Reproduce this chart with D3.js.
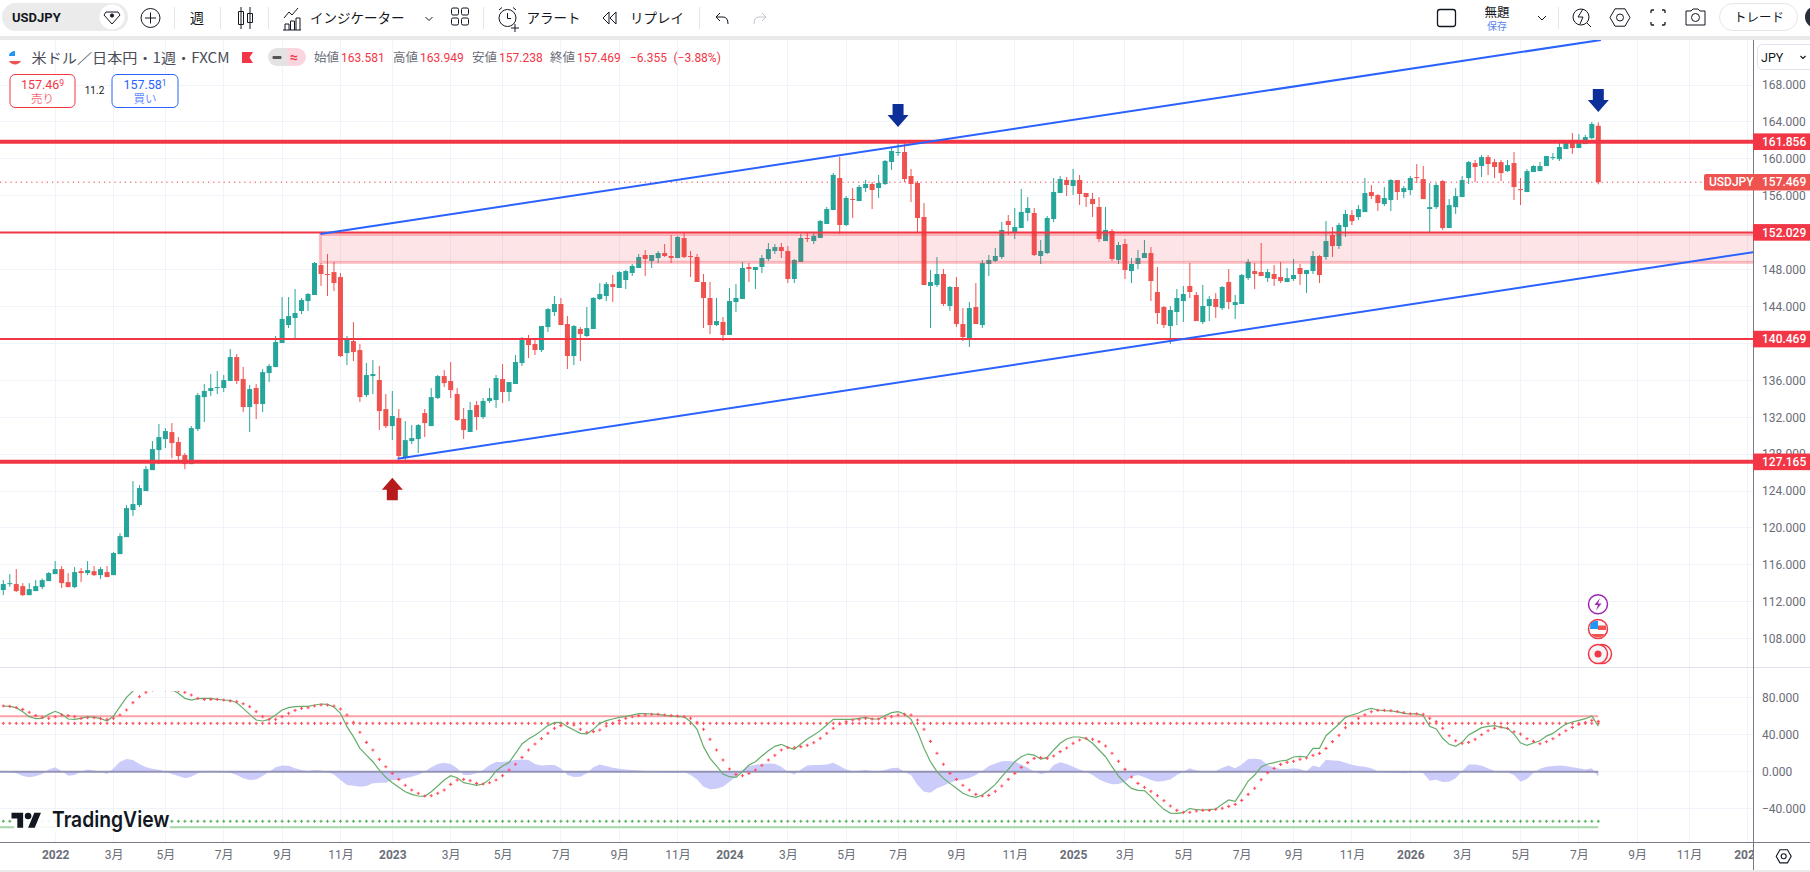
<!DOCTYPE html>
<html>
<head>
<meta charset="utf-8">
<title>USDJPY</title>
<script src="https://d3js.org/d3.v7.min.js"></script>
<style>
	html, body { margin: 0; padding: 0; background: #fff; overflow: hidden; }
	text { font-family: Roboto, "Noto Sans CJK JP", sans-serif; }
	.jp { font-family: "Noto Sans CJK JP", sans-serif; }
</style>
</head>
<body>
<svg id="chart" width="1810" height="872"></svg>
<script>
// weekly candles, index 0 is the first bar on screen
const opens = [
113.27,113.92,113.92,113.70,112.72,113.16,113.59,114.24,115.00,115.54,
114.13,113.59,115.32,115.11,115.32,114.89,115.22,114.89,117.17,119.01,
121.94,122.48,124.00,126.27,128.44,129.63,130.39,129.31,127.90,126.92,
130.72,134.18,134.84,135.16,135.16,135.92,138.52,136.14,133.10,135.16,
133.43,136.79,137.44,140.04,141.99,142.75,143.51,144.59,145.24,148.49,
147.52,147.73,147.19,138.95,140.25,139.28,134.40,136.46,136.03,132.88,
131.04,131.91,127.68,129.42,129.63,132.45,131.04,134.08,136.46,135.92,
134.51,131.81,130.40,133.32,132.02,133.76,133.86,136.14,134.73,135.60,
137.87,140.47,139.93,139.28,141.77,143.40,144.27,142.10,138.63,141.56,
140.80,141.56,144.81,145.13,146.43,146.00,146.87,147.63,148.17,149.58,
148.93,149.25,149.79,149.47,149.25,151.42,149.47,149.36,146.65,144.92,
141.99,142.32,140.91,144.48,144.81,148.28,147.95,148.28,149.14,150.01,
150.44,150.01,146.98,148.82,151.42,151.09,151.42,152.94,154.45,157.92,
152.83,155.65,155.43,156.84,157.27,156.84,157.27,159.66,160.63,160.74,
158.14,157.38,153.70,146.22,146.33,147.52,144.05,146.11,142.10,140.58,
143.94,141.99,148.60,148.93,149.36,153.26,152.07,152.50,154.13,154.13,
149.47,149.79,153.48,156.30,157.71,157.06,157.71,156.30,155.65,154.78,
151.09,152.18,149.04,150.77,147.84,148.60,149.25,149.79,145.57,143.94,
141.88,143.40,144.59,146.22,145.24,142.32,144.05,144.81,143.83,146.65,
144.16,144.27,147.08,147.84,147.73,147.08,147.52,147.19,146.65,146.98,
148.17,147.52,147.84,149.47,149.36,151.75,150.55,152.61,153.91,153.69,
154.23,156.40,156.07,155.10,155.53,157.70,156.40,156.61,158.02,157.81,
154.56,154.77,157.59,152.50,154.77,155.86,157.92,159.54,159.22,160.19,
159.65,159.65,158.67,159.54,156.72,156.40,158.57,158.67,159.22,160.08,
159.97,161.06,161.71,161.17,161.60,162.25,163.581];
const highs = [
114.35,115.00,115.54,114.02,114.02,114.35,114.53,115.22,116.41,115.87,
115.11,115.76,115.65,116.41,115.87,115.76,115.87,117.39,119.44,122.48,
125.08,124.65,126.71,129.42,131.26,130.82,131.37,129.85,128.12,131.04,
134.62,135.59,136.68,137.00,136.57,139.39,138.85,137.44,135.49,135.59,
137.22,137.76,140.80,145.02,145.02,145.89,144.92,145.46,148.82,148.71,
149.68,148.82,147.63,140.80,142.31,139.93,137.87,138.20,137.55,134.51,
134.84,132.88,131.58,131.15,131.26,132.88,135.16,136.57,137.11,137.98,
135.16,133.00,133.65,133.76,134.08,135.16,136.57,137.76,135.81,138.74,
140.69,140.91,140.47,141.88,143.83,145.13,144.92,142.97,141.99,141.77,
143.94,145.02,146.54,146.65,147.41,147.84,147.95,148.60,149.69,150.12,
149.58,150.01,150.77,151.75,151.64,152.07,150.01,149.69,147.52,146.65,
144.92,142.86,146.00,146.43,148.82,148.71,148.28,149.58,150.88,150.77,
150.88,150.55,149.14,151.85,152.07,151.96,153.37,154.78,158.47,160.20,
155.97,156.84,157.16,157.71,157.49,158.25,159.87,161.18,162.04,161.83,
158.90,157.60,155.21,147.95,149.36,148.06,146.22,147.19,143.83,144.48,
146.54,149.04,149.58,150.34,153.15,153.91,154.67,156.73,155.86,154.67,
151.20,153.80,157.92,158.14,158.03,158.90,158.25,156.30,156.30,155.86,
154.78,152.40,150.99,151.31,149.25,150.12,151.20,150.44,148.28,144.05,
144.05,145.89,146.22,148.71,145.57,146.33,145.13,145.46,146.22,148.06,
145.24,147.52,149.14,148.71,150.88,148.06,148.49,148.82,148.17,149.14,
148.60,147.95,150.01,149.58,153.26,152.61,153.05,154.45,154.45,154.99,
157.92,157.16,156.18,156.94,157.81,157.70,157.05,158.13,159.43,159.22,
157.37,157.37,157.70,155.64,156.83,158.13,159.76,159.87,160.41,160.41,
159.97,159.87,159.87,160.73,157.92,158.89,159.32,159.65,160.30,160.63,
161.82,161.93,162.79,162.68,162.58,163.99,163.949];
const lows = [
112.72,113.63,113.05,112.62,112.72,113.16,113.37,114.24,115.00,113.48,
113.59,113.48,114.13,114.89,114.78,114.46,114.68,114.89,117.17,119.01,
121.29,122.26,124.00,126.27,126.92,128.66,127.57,127.14,126.38,126.92,
130.50,131.48,134.29,134.51,134.73,135.92,135.59,132.56,130.39,131.80,
132.56,135.81,137.44,140.04,141.66,140.36,143.18,143.51,145.24,146.22,
145.13,145.67,138.52,137.65,138.09,133.64,134.18,134.51,130.61,130.82,
129.52,127.46,127.36,129.09,128.12,129.85,131.04,133.97,135.27,134.08,
131.59,129.64,130.40,130.61,131.81,133.54,132.99,133.54,133.75,135.60,
137.55,138.41,138.74,139.06,141.23,142.97,141.99,137.22,137.65,138.09,
140.69,141.56,144.70,144.59,144.48,146.00,145.89,147.30,148.17,147.30,
148.17,148.71,149.36,148.71,149.25,149.25,147.19,146.65,141.66,141.01,
141.88,140.26,140.91,143.40,144.81,146.65,145.89,147.63,148.93,149.69,
149.25,146.54,146.54,148.82,150.99,150.77,151.42,152.94,154.45,151.85,
152.72,153.59,155.43,156.41,154.56,155.76,157.16,158.79,160.31,157.49,
155.32,151.96,146.33,141.66,146.11,144.05,143.51,141.77,140.26,139.61,
142.10,141.66,147.30,148.82,149.14,151.75,151.31,152.50,153.26,149.47,
148.60,149.69,153.15,156.30,155.97,156.08,155.00,154.78,153.70,150.99,
151.09,148.93,148.60,146.98,146.54,148.06,149.25,144.59,142.10,141.66,
139.93,141.99,142.32,144.92,142.42,142.10,142.42,142.75,143.62,143.72,
142.64,144.27,146.87,145.89,147.30,146.65,146.22,146.54,146.65,146.76,
146.33,145.46,147.52,146.54,149.04,149.36,150.23,151.53,152.82,153.36,
154.23,155.64,154.34,154.88,154.34,155.53,155.75,156.07,157.37,155.64,
152.06,154.56,152.28,152.50,154.02,155.86,157.27,157.48,158.02,158.24,
157.92,157.59,158.57,155.53,154.99,156.40,158.57,158.67,159.22,159.87,
159.76,161.06,160.52,161.17,161.60,162.14,157.238];
const closes = [
113.92,114.02,113.16,112.72,113.37,113.70,114.35,115.11,115.54,114.02,
113.59,115.22,115.11,115.43,114.89,115.54,114.68,117.28,119.12,122.15,
122.59,124.32,126.38,128.55,129.85,130.50,129.20,127.79,126.92,130.82,
134.40,134.84,135.16,135.27,136.03,138.52,135.92,133.10,135.05,133.43,
136.89,137.55,140.15,142.64,142.96,143.29,144.70,145.35,148.71,147.52,
147.41,146.54,138.63,140.47,139.06,134.18,136.57,136.68,132.67,131.04,
132.13,127.79,129.52,129.74,131.15,131.37,134.18,136.46,135.70,134.94,
131.70,130.61,132.78,132.02,133.76,134.08,136.25,134.73,135.81,137.98,
140.58,139.82,139.28,141.88,143.72,144.27,141.99,138.63,141.88,141.01,
141.66,144.92,145.35,146.43,146.11,147.73,147.84,148.39,149.36,149.14,
149.58,149.79,149.47,149.25,151.53,149.36,149.36,146.65,144.92,141.99,
142.42,140.91,144.59,144.92,148.17,148.06,148.28,149.25,150.23,150.44,
150.01,146.98,149.04,151.42,151.31,151.64,153.26,154.56,158.25,152.83,
155.76,155.54,156.95,157.27,156.62,157.38,159.77,160.85,160.74,157.81,
157.27,153.59,146.33,146.65,147.52,144.27,146.11,142.10,140.69,143.83,
142.10,148.71,149.04,149.47,152.29,152.83,152.61,154.24,154.67,149.58,
150.01,153.59,156.41,157.81,157.16,157.71,156.19,155.86,155.10,151.31,
152.29,149.14,150.66,147.95,148.60,149.25,149.79,146.76,143.29,141.99,
143.62,144.92,145.35,145.57,142.42,144.05,144.81,143.94,146.11,144.48,
144.48,147.41,148.82,147.52,147.30,147.73,146.98,146.76,147.08,147.41,
147.52,147.95,149.47,147.41,151.09,150.55,152.83,154.02,153.25,154.56,
156.29,155.96,155.21,155.75,157.70,156.40,156.83,157.92,157.92,155.64,
154.77,157.16,152.50,154.99,155.96,157.70,159.65,159.11,160.19,159.43,
159.11,158.46,159.32,156.94,156.61,158.67,159.22,159.22,160.30,160.19,
161.28,161.71,161.17,161.71,162.36,163.77,157.469];

// oscillator pane, one value per week
const oscLine = [
71.0,70.7,69.2,64.9,59.5,57.3,57.7,62.0,65.3,62.4,
57.0,56.6,57.7,59.5,58.8,57.7,54.8,60.2,70.3,80.4,
87.2,96,104,104,100,95,89.0,84.7,79.3,77.5,
79.0,79.3,79.3,78.2,77.5,77.2,74.6,68.5,62.0,55.9,
54.8,56.6,61.3,66.7,69.2,70.3,70.7,70.7,72.1,73.2,
72.8,70.0,63.1,48.7,37.9,25.3,18.0,10.8,1.8,-6.1,
-11.9,-16.9,-21.6,-24.5,-26.3,-26.6,-21.6,-15.5,-9.0,-4.3,
-6.5,-11.9,-13.3,-14.7,-13.3,-8.3,0.8,6.2,9.8,19.9,
30.0,35.3,39.3,44.4,49.8,53.0,53.4,48.7,45.1,41.5,
40.8,45.8,52.3,55.2,57.0,58.8,59.9,61.3,62.7,62.7,
62.4,62.0,60.9,60.2,59.5,59.5,54.1,45.8,27.1,14.4,
6.2,-2.5,-5.4,-6.1,0.0,7.2,10.8,17.0,22.7,27.4,
29.6,26.3,24.2,30.0,35.3,39.7,44.4,50.5,56.6,56.6,
56.6,56.6,57.7,58.8,57.0,57.0,60.6,63.8,64.9,62.4,
56.6,43.3,25.3,10.8,0.0,-7.2,-12.6,-18.0,-23.4,-26.3,
-27.7,-25.2,-19.8,-13.7,-5.4,2.5,10.8,16.2,19.1,18.0,
13.7,15.5,23.5,30.7,35.3,37.5,37.5,35.7,30.7,23.5,
16.2,5.4,-4.7,-11.9,-18.0,-20.2,-20.5,-27.0,-34.2,-40.7,
-44.7,-45.0,-44.3,-39.6,-41.1,-41.4,-41.1,-40.3,-35.3,-30.6,
-32.0,-21.6,-10.1,-3.6,5.1,8.3,9.8,11.6,12.6,15.9,
16.6,15.9,25.2,25.2,38.9,45.1,51.6,58.8,61.3,63.5,
66.7,68.5,66.7,66.0,65.6,64.9,63.1,62.4,62.7,60.6,
49.0,46.2,36.1,29.6,27.4,31.7,39.7,43.6,47.6,49.0,
49.8,48.0,46.8,40.7,31.3,28.4,31.0,33.5,38.5,41.4,
46.8,51.5,53.7,55.5,57.3,60.2,49.3];
const oscSignal = [
71.0,70.7,69.2,67.4,64.2,60.6,58.8,57.7,59.5,61.3,
60.6,59.5,57.7,58.4,58.4,57.3,56.6,57.7,61.3,66.7,
74.6,81.1,85.8,88.3,89.0,88.3,88.3,87.6,85.8,82.9,
79.3,78.2,78.2,78.2,77.5,76.4,75.7,73.5,70.3,64.9,
59.5,56.6,56.6,59.5,63.1,66.3,68.5,69.2,71.0,72.1,
72.1,71.0,67.8,61.3,53.4,42.6,31.7,23.5,13.4,5.4,
-1.8,-8.3,-14.7,-19.8,-23.4,-26.3,-25.9,-23.4,-19.8,-13.7,
-9.0,-8.3,-9.7,-12.6,-13.3,-11.9,-9.0,-4.3,1.8,8.0,
15.5,23.5,30.0,35.7,41.5,46.9,49.8,52.3,50.5,45.8,
42.6,43.3,45.1,49.4,52.3,55.2,57.7,59.5,60.6,61.3,
62.0,62.0,61.3,60.6,60.2,59.5,57.7,53.4,45.8,35.0,
23.5,12.7,2.9,-2.9,-4.3,-1.8,1.8,6.9,12.7,17.7,
23.5,26.0,26.0,27.1,28.5,31.4,36.1,41.5,46.9,51.6,
54.1,55.9,56.6,57.7,57.0,57.0,57.7,59.5,61.3,62.0,
61.3,55.9,45.8,32.8,19.9,8.0,-1.8,-8.3,-14.7,-19.8,
-24.5,-26.3,-25.6,-21.2,-15.5,-8.3,-1.8,4.7,9.8,14.4,
15.2,14.4,17.0,21.7,25.6,30.7,34.3,36.1,35.0,32.5,
27.8,19.9,11.2,2.5,-5.7,-12.6,-16.9,-21.2,-25.9,-31.3,
-37.1,-41.8,-43.9,-43.9,-42.5,-41.8,-41.8,-40.7,-39.6,-37.5,
-35.3,-31.0,-24.5,-18.0,-8.6,-1.0,3.6,7.9,10.1,11.2,
13.4,14.8,17.7,19.8,25.2,32.5,39.3,47.6,52.6,57.7,
61.6,64.9,66.3,66.3,66.0,64.9,63.8,62.7,62.7,62.0,
57.7,54.1,46.9,38.9,33.5,30.7,31.7,35.0,40.0,44.3,
46.9,48.3,46.8,43.2,40.7,35.6,32.8,30.2,32.4,35.6,
40.0,44.3,47.9,51.1,53.0,55.5,54.4];
const oscHist = [
0,-0.7,-1.8,-4.7,-6.1,-5.0,-2.5,2.5,4.7,0.7,
-4.3,-3.6,0,2.5,1.4,0,-2.5,3.6,10.8,13.7,
12.6,8.3,4.7,3.2,2.2,0.4,-2.5,-4.7,-7.2,-5.4,
-1.8,0.4,1.1,0,-0.7,-1.1,-3.6,-7.2,-9.0,-8.3,
-4.7,0,4.7,6.8,6.5,3.6,1.8,0.7,1.8,1.4,
0,-2.9,-9.0,-14.4,-15.1,-16.2,-15.5,-12.6,-11.9,-11.9,
-9.0,-9.0,-7.2,-5.4,-3.2,0,4.7,8.3,9.7,8.3,
3.6,-3.6,-3.6,-1.8,1.8,7.2,10.5,10.5,11.5,12.6,
13.3,12.6,8.3,6.8,7.2,7.2,3.6,-3.6,-5.8,-5.4,
-1.8,4.7,7.9,6.1,4.3,3.2,2.5,1.8,1.4,0.7,
0,-0.7,-0.7,-1.1,-1.1,-0.4,-3.6,-8.3,-16.2,-19.1,
-18.4,-16.2,-10.8,-5.4,1.8,6.1,7.6,8.3,9.0,8.6,
5.4,0,-2.9,2.5,6.8,7.2,7.2,7.9,9.7,6.1,
2.5,0.4,1.1,1.8,0.7,0.4,1.8,4.0,4.3,-0.4,
-3.6,-14.4,-21.6,-22.7,-18.0,-15.1,-11.9,-9.4,-8.6,-6.8,
-3.6,0.7,6.1,9.0,11.2,11.5,10.8,7.9,4.3,0,
-2.5,-1.1,7.2,10.1,8.3,5.4,2.5,0,-3.6,-8.3,
-11.5,-13.7,-13.3,-10.8,-5.4,-3.6,-6.1,-9.0,-10.8,-10.1,
-8.3,-3.6,0,3.6,1.4,0.7,0,0.7,4.3,6.8,
3.6,7.9,13.7,14.1,13.3,7.2,4.3,2.9,2.9,3.6,
2.9,0.7,6.8,4.7,13.0,12.2,11.9,9.7,7.6,6.1,
5.4,3.6,0.4,-0.7,-1.1,-1.4,-1.8,-1.1,0,-1.8,
-9.7,-8.6,-11.2,-10.8,-7.2,0.7,7.9,7.9,6.5,3.6,
0.7,0.4,-0.7,-3.6,-10.8,-7.9,-1.1,3.2,5.4,6.1,
6.8,6.1,4.7,3.6,2.5,3.6,-5.4];

const oscUpperSolid = 60, oscUpperDots = 52.3, oscLowerDots = -53.6, oscLowerSolid = -60;

const priceTicks = [168,164,160,156,148,144,136,132,128,124,120,116,112,108];
const priceGridOnly = [152,140];
const oscTicks = [80,40,0,-40];

const timeIndex = [8,17,25,34,43,52,60,69,77,86,95,104,112,121,130,138,147,156,165,173,182,191,199,208,217,225,234,243,252,260,269];
const timeLabels = ["2022","3月","5月","7月","9月","11月","2023","3月","5月","7月","9月","11月","2024","3月","5月","7月","9月","11月","2025","3月","5月","7月","9月","11月","2026","3月","5月","7月","9月","11月","2027"];

// drawings
const heavyLevels = [161.856,127.165];
const lightLevels = [152.029,140.469];
const lastPrice = 157.469;
const upperChannelIdx = [48.9,246.4], upperChannelPrice = [151.85,172.88];
const lowerChannelIdx = [60.8,270], lowerChannelPrice = [127.50,149.90];
const zoneStartIdx = 48.9, zoneTop = 151.8, zoneBottom = 148.78;
const sellMarkIdx = [138,246], sellMarkPrice = [163.45,165.07];
const buyMarkIdx = [60], buyMarkPrice = [125.44];

const ohlcNames = ["始値","高値","安値","終値"];
const ohlcValues = ["163.581","163.949","157.238","157.469"];

const red = "#f23645", up = "#26a69a", down = "#ef5350", blue = "#2962ff", gridCol = "#f0f3fa", axisText = "#6a6d78";

const svg = d3.select("#chart");
const defs = svg.append("defs");
defs.append("clipPath").attr("id","mainClip").append("rect").attr("x",0).attr("y",40).attr("width",1753).attr("height",627);
defs.append("clipPath").attr("id","oscClip").append("rect").attr("x",0).attr("y",691).attr("width",1753).attr("height",151);
defs.append("clipPath").attr("id","timeClip").append("rect").attr("x",0).attr("y",843).attr("width",1753).attr("height",27);

const x = d3.scaleLinear().domain([0,246]).range([3.3,1598.3]);
const y = d3.scaleLinear().domain([168,108]).range([85,638.7]);
const yOsc = d3.scaleLinear().domain([80,-40]).range([697.7,808.7]);

// grid
const grid = svg.append("g").attr("stroke",gridCol).attr("stroke-width",1).attr("shape-rendering","crispEdges");
grid.selectAll(".gy").data(priceTicks.concat(priceGridOnly)).enter().append("line")
	.attr("x1",0).attr("x2",1753).attr("y1",d => y(d)).attr("y2",d => y(d));
grid.selectAll(".go").data(oscTicks).enter().append("line")
	.attr("x1",0).attr("x2",1753).attr("y1",d => yOsc(d)).attr("y2",d => yOsc(d));
grid.selectAll(".gx").data(timeIndex).enter().append("line")
	.attr("x1",d => x(d)).attr("x2",d => x(d)).attr("y1",40).attr("y2",842);

// candles
const idx = d3.range(opens.length);
const main = svg.append("g").attr("clip-path","url(#mainClip)");
const candles = main.append("g");
candles.selectAll("line").data(idx).enter().append("line")
	.attr("x1",d => x(d)).attr("x2",d => x(d))
	.attr("y1",d => y(highs[d])).attr("y2",d => y(lows[d]))
	.attr("stroke",d => closes[d] >= opens[d] ? up : down).attr("stroke-width",1);
candles.selectAll("rect").data(idx).enter().append("rect")
	.attr("x",d => x(d)-2.5).attr("width",5)
	.attr("y",d => y(Math.max(opens[d],closes[d])))
	.attr("height",d => Math.max(1,y(Math.min(opens[d],closes[d]))-y(Math.max(opens[d],closes[d]))))
	.attr("fill",d => closes[d] >= opens[d] ? up : down);

// last price dotted
main.append("line").attr("x1",0).attr("x2",1704).attr("y1",y(lastPrice)).attr("y2",y(lastPrice))
	.attr("stroke",red).attr("stroke-width",1).attr("stroke-dasharray","1.2 4");

// zone
main.append("rect").attr("x",x(zoneStartIdx)).attr("width",1600).attr("y",y(zoneTop)).attr("height",y(zoneBottom)-y(zoneTop))
	.attr("fill",red).attr("fill-opacity",0.13).attr("stroke",red).attr("stroke-opacity",0.3).attr("stroke-width",3);

// horizontal levels
main.selectAll(".hv").data(heavyLevels).enter().append("line")
	.attr("x1",0).attr("x2",1753).attr("y1",d => y(d)).attr("y2",d => y(d)).attr("stroke",red).attr("stroke-width",4);
main.selectAll(".lt").data(lightLevels).enter().append("line")
	.attr("x1",0).attr("x2",1753).attr("y1",d => y(d)).attr("y2",d => y(d)).attr("stroke",red).attr("stroke-width",2);

// channel
const chanLine = d3.line().x(d => x(d[0])).y(d => y(d[1]));
[[upperChannelIdx,upperChannelPrice],[lowerChannelIdx,lowerChannelPrice]].forEach(c => {
	main.append("path").attr("d",chanLine(d3.zip(c[0],c[1]))).attr("fill","none").attr("stroke",blue).attr("stroke-width",2);
});

// arrows
const sellArrow = "M0,0 L-10.5,-12 L-5.5,-12 L-5.5,-23 L5.5,-23 L5.5,-12 L10.5,-12 Z";
const buyArrow = "M0,0 L-10.5,12 L-5.5,12 L-5.5,22.5 L5.5,22.5 L5.5,12 L10.5,12 Z";
sellMarkIdx.forEach((d,i) => {
	main.append("path").attr("d",sellArrow).attr("fill","#0d2f9a").attr("transform",`translate(${x(d)},${y(sellMarkPrice[i])})`);
});
buyMarkIdx.forEach((d,i) => {
	main.append("path").attr("d",buyArrow).attr("fill","#b71c1c").attr("transform",`translate(${x(d)},${y(buyMarkPrice[i])})`);
});

// oscillator pane
const osc = svg.append("g").attr("clip-path","url(#oscClip)");
const oscEndX = x(246);
[[oscUpperSolid,"#f9a3a9"],[oscLowerSolid,"#a5d6a7"]].forEach(l => {
	osc.append("line").attr("x1",0).attr("x2",oscEndX).attr("y1",yOsc(l[0])).attr("y2",yOsc(l[0])).attr("stroke",l[1]).attr("stroke-width",2);
});
osc.append("path").datum(oscHist).attr("fill","#c9c9fb").attr("fill-opacity",0.95)
	.attr("d",d3.area().x((d,i) => x(i)).y0(yOsc(0)).y1(d => yOsc(d)));
osc.append("line").attr("x1",0).attr("x2",oscEndX).attr("y1",yOsc(0)).attr("y2",yOsc(0)).attr("stroke","#9393b5").attr("stroke-width",2);

const cross = d3.symbol().type(d3.symbolCross).size(5.5);
osc.selectAll(".du").data(idx).enter().append("path").attr("d",cross).attr("fill","#ff4d5a")
	.attr("transform",d => `translate(${x(d)},${yOsc(oscUpperDots)})`);
osc.selectAll(".dl").data(idx).enter().append("path").attr("d",cross).attr("fill","#4caf50")
	.attr("transform",d => `translate(${x(d)},${yOsc(oscLowerDots)})`);
osc.append("path").datum(oscLine).attr("fill","none").attr("stroke","#66ad6a").attr("stroke-width",1.2)
	.attr("d",d3.line().x((d,i) => x(i)).y(d => yOsc(d)));
osc.selectAll(".sg").data(oscSignal).enter().append("path").attr("d",cross).attr("fill","#ff4d5a")
	.attr("transform",(d,i) => `translate(${x(i)},${yOsc(d)})`);

// logo sits above the oscillator
const logoBg = svg.append("g");
logoBg.append("rect").attr("x",14).attr("y",812).attr("width",156).attr("height",21).attr("fill","#fff").attr("fill-opacity",0.9);
const logo = logoBg.append("g").attr("transform","translate(11.5,809.4) scale(0.83)").attr("fill","#131722");
logo.append("path").attr("d","M14 22H7V11H0V4h14v18zM28 22h-8l7.5-18h8L28 22z");
logo.append("circle").attr("cx",20).attr("cy",8).attr("r",4);
logoBg.append("text").attr("x",52).attr("y",827).attr("font-size",22).attr("font-weight",600).attr("fill","#131722")
	.attr("textLength",117.5).attr("lengthAdjust","spacingAndGlyphs").style("font-family","Inter").text("TradingView");

// event icons
const events = svg.append("g");
events.append("circle").attr("cx",1598).attr("cy",604.3).attr("r",9.5).attr("fill","#fff").attr("stroke","#9c27b0").attr("stroke-width",1.5);
events.append("path").attr("d","M1600,598 L1594.5,605 L1598,605 L1596,610.5 L1601.5,603.5 L1598,603.5 Z").attr("fill","#9c27b0");
events.append("circle").attr("cx",1598).attr("cy",629).attr("r",9.5).attr("fill","#fff").attr("stroke",red).attr("stroke-width",1.5);
events.append("path").attr("d","M1590.5,623.5 A9,9 0 0 1 1598,620.7 L1598,629 L1590,629 Z").attr("fill","#2196f3");
events.append("path").attr("d","M1598,625.5 H1606 V630 H1598 Z M1591,634 H1605 A9,9 0 0 1 1591,634 Z").attr("fill","#ef5350");
events.append("circle").attr("cx",1602).attr("cy",654).attr("r",9.5).attr("fill","#fff").attr("stroke",red).attr("stroke-width",1.5);
events.append("circle").attr("cx",1598).attr("cy",654).attr("r",9.5).attr("fill","#f5f5f7").attr("stroke",red).attr("stroke-width",1.5);
events.append("circle").attr("cx",1598).attr("cy",654).attr("r",3.5).attr("fill",red);

// panes and axis lines
svg.append("line").attr("x1",0).attr("x2",1810).attr("y1",667.5).attr("y2",667.5).attr("stroke","#e0e3eb");
svg.append("rect").attr("x",0).attr("y",36).attr("width",1810).attr("height",4).attr("fill","#e9e9ea");
svg.append("rect").attr("x",0).attr("y",870).attr("width",1810).attr("height",2).attr("fill","#e9e9ea");
svg.append("line").attr("x1",0).attr("x2",1810).attr("y1",842.5).attr("y2",842.5).attr("stroke","#787b86");

// price axis
const styleAxis = g => {
	g.select(".domain").remove();
	g.selectAll("text").attr("font-size",12).attr("fill",axisText).style("font-family","Roboto");
};
svg.append("g").attr("transform","translate(1753,0)")
	.call(d3.axisRight(y).tickValues(priceTicks).tickFormat(d3.format(".3f")).tickSize(0).tickPadding(9)).call(styleAxis);
svg.append("g").attr("transform","translate(1753,0)")
	.call(d3.axisRight(yOsc).tickValues(oscTicks).tickFormat(d3.format(".3f")).tickSize(0).tickPadding(9)).call(styleAxis);

// time axis
const timeAxis = svg.append("g").attr("clip-path","url(#timeClip)").append("g").attr("transform","translate(0,842)")
	.call(d3.axisBottom(x).tickValues(timeIndex).tickFormat((d,i) => timeLabels[i]).tickSize(0).tickPadding(8));
timeAxis.select(".domain").remove();
timeAxis.selectAll("text").attr("font-size",12).attr("fill",axisText)
	.attr("font-weight",(d,i) => /^20/.test(timeLabels[i]) ? 700 : 400);

svg.append("line").attr("x1",1753.5).attr("x2",1753.5).attr("y1",40).attr("y2",870).attr("stroke","#787b86");

// level tags on the axis
heavyLevels.concat(lightLevels).forEach(p => {
	svg.append("rect").attr("x",1753).attr("y",y(p)-8.3).attr("width",57).attr("height",16.6).attr("fill",red);
	svg.append("text").attr("x",1762).attr("y",y(p)+4.3).attr("font-size",12).attr("font-weight",500).attr("fill","#fff").text(d3.format(".3f")(p));
});
svg.append("path").attr("d",`M1706,${y(lastPrice)-8.3} H1810 V${y(lastPrice)+8.3} H1706 Q1704,${y(lastPrice)+8.3} 1704,${y(lastPrice)+6.3} V${y(lastPrice)-6.3} Q1704,${y(lastPrice)-8.3} 1706,${y(lastPrice)-8.3} Z`).attr("fill","#ef5350");
svg.append("text").attr("x",1709).attr("y",y(lastPrice)+4.3).attr("font-size",12).attr("font-weight",500).attr("fill","#fff").text("USDJPY");
svg.append("text").attr("x",1762).attr("y",y(lastPrice)+4.3).attr("font-size",12).attr("font-weight",500).attr("fill","#fff").text(d3.format(".3f")(lastPrice));

// currency box
svg.append("rect").attr("x",1757.5).attr("y",44.5).attr("width",60).attr("height",25).attr("rx",5).attr("fill","#fff").attr("stroke","#e0e3eb");
svg.append("text").attr("x",1761).attr("y",61.5).attr("font-size",12.5).attr("fill","#131722").text("JPY");
svg.append("path").attr("d","M1800.5,56 l2.5,2.5 l2.5,-2.5").attr("fill","none").attr("stroke","#131722").attr("stroke-width",1.2);

// settings gear, lower right
const hexagon = (cx,cy,r) => `M${cx-r},${cy} L${cx-r/2},${cy-r*0.87} L${cx+r/2},${cy-r*0.87} L${cx+r},${cy} L${cx+r/2},${cy+r*0.87} L${cx-r/2},${cy+r*0.87} Z`;
const icon = svg.append("g").attr("fill","none").attr("stroke","#131722").attr("stroke-width",1.1);
icon.append("path").attr("d",hexagon(1783.7,856.3,7.5));
icon.append("circle").attr("cx",1783.7).attr("cy",856.3).attr("r",2.5);

// legend row
const legend = svg.append("g");
legend.append("circle").attr("cx",15).attr("cy",58).attr("r",7).attr("fill","#fff");
legend.append("path").attr("d","M9,55 A7,7 0 0 1 15,51 L15,56 L9,56 Z").attr("fill","#2196f3");
legend.append("path").attr("d","M9,61 H21 A7,7 0 0 1 9,61 Z").attr("fill","#ef5350");
legend.append("text").attr("class","jp").attr("x",31.5).attr("y",62.5).attr("font-size",14).attr("fill","#4a4d57").attr("textLength",198).attr("lengthAdjust","spacingAndGlyphs").text("米ドル／日本円・1週・FXCM");
legend.append("path").attr("d","M242,52 H253 L249.5,57.5 L253,63 H242 Z").attr("fill",red);
legend.append("path").attr("d","M277,48 H287 V66 H277 A9,9 0 0 1 277,48 Z").attr("fill","#e3e3e3");
legend.append("path").attr("d","M287,48 H297 A9,9 0 0 1 297,66 H287 Z").attr("fill","#fbd6df");
legend.append("rect").attr("x",272.5).attr("y",56).attr("width",9).attr("height",3).attr("rx",1).attr("fill","#555");
legend.append("text").attr("x",294).attr("y",62).attr("text-anchor","middle").attr("font-size",14).attr("font-weight",700).attr("fill",red).text("≈");
const ohlcX = [314,393,472,550];
ohlcNames.forEach((n,i) => {
	legend.append("text").attr("class","jp").attr("x",ohlcX[i]).attr("y",62).attr("font-size",12.5).attr("fill","#6a6d78").text(n);
	legend.append("text").attr("x",ohlcX[i]+27).attr("y",62).attr("font-size",12).attr("fill",red).text(ohlcValues[i]);
});
legend.append("text").attr("x",630).attr("y",62).attr("font-size",12).attr("fill",red).text("−6.355");
legend.append("text").attr("x",673.5).attr("y",62).attr("font-size",12).attr("fill",red).text("(−3.88%)");

// bid and ask boxes
const quote = (bx,w,col,big,small,label) => {
	legend.append("rect").attr("x",bx).attr("y",74.5).attr("width",w).attr("height",33).attr("rx",5).attr("fill","#fff").attr("stroke",col);
	const t = legend.append("text").attr("x",bx+w/2).attr("y",88.5).attr("text-anchor","middle").attr("font-size",12.5).attr("fill",col).text(big);
	t.append("tspan").attr("font-size",8.5).attr("dy",-2.5).text(small);
	legend.append("text").attr("class","jp").attr("x",bx+w/2).attr("y",102.5).attr("text-anchor","middle").attr("font-size",11.5).attr("fill",col).attr("fill-opacity",0.75).text(label);
};
quote(10,65,red,"157.46","9","売り");
quote(112,66,blue,"157.58","1","買い");
legend.append("text").attr("x",94.5).attr("y",94).attr("text-anchor","middle").attr("font-size",10).attr("fill","#131722").text("11.2");

// toolbar
const bar = svg.append("g");
bar.append("path").attr("d","M16,3 H114 A14,14 0 0 1 114,31 H16 A14,14 0 0 1 16,3 Z").attr("fill","#ebebeb");
bar.append("circle").attr("cx",112).attr("cy",17).attr("r",12.5).attr("fill","#fff");
bar.append("text").attr("x",12).attr("y",22).attr("font-size",13).attr("font-weight",700).attr("fill","#131722").text("USDJPY");
const bi = bar.append("g").attr("fill","none").attr("stroke","#131722").attr("stroke-width",1);
bi.append("path").attr("d","M106,12 H118 L120,15 L112,24 L104,15 Z");
bi.append("circle").attr("cx",112).attr("cy",15.5).attr("r",1.6).attr("fill","#131722");
bi.append("circle").attr("cx",150.5).attr("cy",18).attr("r",9.5);
bi.append("path").attr("d","M150.5,12.5 V23.5 M145,18 H156");
bar.selectAll(".sep").data([174.5,220.5,268.5,483.5,699.5,1558.5]).enter().append("line")
	.attr("x1",d => d).attr("x2",d => d).attr("y1",7).attr("y2",29).attr("stroke","#e6e6e6");
[["週",197,14,"middle"],["インジケーター",310,13.5,"start"],["アラート",526.5,13.5,"start"],["リプレイ",630,13.5,"start"]].forEach(t => {
	bar.append("text").attr("class","jp").attr("x",t[1]).attr("y",23).attr("font-size",t[2]).attr("text-anchor",t[3]).attr("fill","#131722").text(t[0]);
});
// candle icon
bi.append("path").attr("d","M241,7 V29 M250,7 V29 M238.5,11.5 H243.5 V24.5 H238.5 Z M247.5,13.5 H252.5 V22.5 H247.5 Z");
// indicators icon
bi.append("path").attr("d","M284,18 L289,12 L292,15 L298,8 M285,30 V24 H289 V30 M290.5,30 V21 H294.5 V30 M296,30 V18 H300 V30 M283,30 H301");
// chevrons
bi.append("path").attr("d","M425.5,17 L429,20.5 L432.5,17 M1538,16 L1542,20 L1546,16");
// layouts
[[455,11],[455,21],[465,11],[465,21]].forEach(r => {
	bi.append("rect").attr("x",r[0]-3.5).attr("y",r[1]-3).attr("width",7).attr("height",7).attr("rx",1.5);
});
// alert
bi.append("circle").attr("cx",507.5).attr("cy",18).attr("r",8.5);
bi.append("path").attr("d","M507.5,13 V18.5 H511 M499,10 L502,7.5 M516,10 L513,7.5 M511,28 H519 M515,24 V32");
// replay
bi.append("path").attr("d","M609,12 L603,18 L609,24 Z M616,12 L610,18 L616,24 Z");
// undo redo
bi.append("path").attr("d","M716,17 L720,13 M716,17 L720,21 M716,17 H723 Q728,17 728,24");
bar.append("path").attr("d","M766,17 L762,13 M766,17 L762,21 M766,17 H759 Q754,17 754,24").attr("fill","none").attr("stroke","#c2c4cc");
// right side icons
bi.append("rect").attr("x",1437.5).attr("y",9.5).attr("width",18).attr("height",17).attr("rx",2.5).attr("stroke-width",1.3);
bar.append("text").attr("class","jp").attr("x",1497).attr("y",17).attr("text-anchor","middle").attr("font-size",12.5).attr("fill","#131722").text("無題");
bar.append("text").attr("class","jp").attr("x",1497).attr("y",30).attr("text-anchor","middle").attr("font-size",10).attr("fill","#5b84f0").text("保存");
bi.append("circle").attr("cx",1581).attr("cy",17).attr("r",8);
bi.append("path").attr("d","M1587,23 L1591,27 M1583,9 L1578,17 H1583 L1580,24");
bi.append("path").attr("d",hexagon(1620,17.5,10));
bi.append("circle").attr("cx",1620).attr("cy",17.5).attr("r",3.5);
bi.append("path").attr("d","M1651,13 V11 Q1651,10 1652,10 H1654 M1662,10 H1664 Q1665,10 1665,11 V13 M1665,22 V24 Q1665,25 1664,25 H1662 M1654,25 H1652 Q1651,25 1651,24 V22").attr("stroke-width",1.3);
bi.append("path").attr("d","M1686,11 H1691 L1693,9 H1698 L1700,11 H1705 V25 H1686 Z");
bi.append("circle").attr("cx",1695.5).attr("cy",17.5).attr("r",4);
bar.append("rect").attr("x",1719.5).attr("y",3.5).attr("width",78).attr("height",27).attr("rx",13.5).attr("fill","#fff").attr("stroke","#e6e6e6");
bar.append("text").attr("class","jp").attr("x",1759).attr("y",22).attr("text-anchor","middle").attr("font-size",12.5).attr("fill","#131722").text("トレード");
bar.append("circle").attr("cx",1816).attr("cy",17).attr("r",11).attr("fill","#2a2e39");
</script>
</body>
</html>
